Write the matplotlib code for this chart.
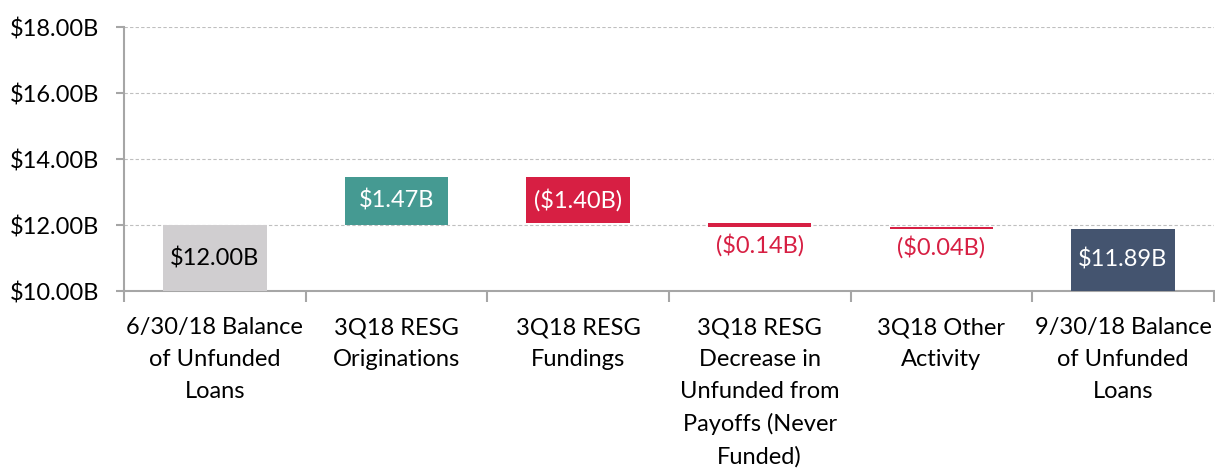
import matplotlib.pyplot as plt
import numpy as np

categories = ['6/30/18 Balance\nof Unfunded\nLoans', '3Q18 RESG\nOriginations', '3Q18 RESG\nFundings',
              '3Q18 RESG\nDecrease in\nUnfunded from\nPayoffs (Never\nFunded)', '3Q18 Other\nActivity',
              '9/30/18 Balance\nof Unfunded\nLoans']
changes = [12.00, 1.47, -1.40, -0.14, -0.04, 11.89]
labels = ['$12.00B', '$1.47B', '($1.40B)', '($0.14B)', '($0.04B)', '$11.89B']
colors = ['#D0CED0', '#459A92', '#D71F43', '#D71F43', '#D71F43', '#44546F']
yticks = [10, 12, 14, 16, 18]

plt.rcParams['font.family'] = ['Lato', 'DejaVu Sans']

# waterfall bottoms / tops
bottoms, heights = [], []
running = 0
for i, c in enumerate(changes):
    if i == 0 or i == len(changes) - 1:
        bottoms.append(0)
        heights.append(c)
        running = c
    else:
        bottoms.append(min(running, running + c))
        heights.append(abs(c))
        running += c

fig, ax = plt.subplots(figsize=(12.15, 4.68), dpi=100)
fig.subplots_adjust(left=0.102, right=0.999, top=0.942, bottom=0.378)

x = np.arange(len(categories))
ax.bar(x, heights, bottom=bottoms, width=0.57, color=colors, zorder=3)

fs = 17
for i in range(len(categories)):
    if heights[i] < 0.3:
        ax.text(x[i], bottoms[i] - 0.2, labels[i], ha='center', va='top', fontsize=fs, color='#D71F43')
    elif i == 0:
        ax.text(x[i], 11.0, labels[i], ha='center', va='center', fontsize=fs, color='black', zorder=4)
    elif i == len(categories) - 1:
        ax.text(x[i], 10.95, labels[i], ha='center', va='center', fontsize=fs, color='white', zorder=4)
    else:
        ax.text(x[i], bottoms[i] + heights[i] / 2, labels[i], ha='center', va='center', fontsize=fs,
                color='white', zorder=4)

ax.set_ylim(10, 18)
ax.set_xlim(-0.5, len(categories) - 0.5)
ax.set_yticks(yticks)
ax.set_yticklabels(['$%.2fB' % v for v in yticks], fontsize=fs)
ax.yaxis.grid(True, linestyle=(0, (3, 2)), color='#BFBFBF', linewidth=0.8, zorder=0)

ax.set_xticks(x)
ax.set_xticklabels(categories, fontsize=fs, linespacing=1.62)
ax.tick_params(axis='x', length=0, pad=19)
ax.set_xticks(np.arange(len(categories) + 1) - 0.5, minor=True)
ax.tick_params(axis='x', which='minor', length=8, color='#A6A6A6', width=1.5)
ax.tick_params(axis='y', length=6, color='#A6A6A6', width=1.5, pad=12)

for s in ['top', 'right']:
    ax.spines[s].set_visible(False)
for s in ['left', 'bottom']:
    ax.spines[s].set_color('#A6A6A6')
    ax.spines[s].set_linewidth(1.5)

plt.savefig('out.png')
